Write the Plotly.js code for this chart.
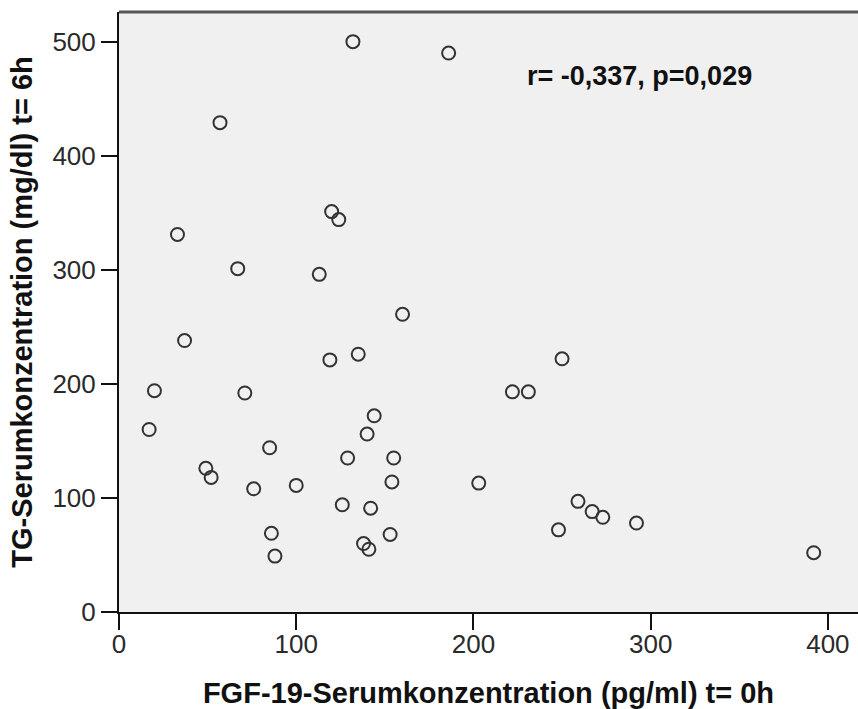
<!DOCTYPE html>
<html>
<head>
<meta charset="utf-8">
<script src="https://cdn.plot.ly/plotly-3.0.1.min.js"></script>
<style>
  html, body { margin: 0; padding: 0; background: #fff; }
  #chart { width: 858px; height: 709px; }
</style>
</head>
<body>
<div id="chart"></div>
<script>
// FGF-19 serum concentration at t=0h (pg/ml)
const fgf19 = [132, 186, 57, 120, 124, 33, 67, 113, 160, 37,
               119, 135, 250, 20, 71, 222, 231, 17, 144, 140,
               85, 129, 155, 49, 52, 76, 100, 154, 203, 126,
               142, 259, 267, 273, 292, 248, 86, 153, 138, 141,
               88, 392];
// TG serum concentration at t=6h (mg/dl)
const tg = [500, 490, 429, 351, 344, 331, 301, 296, 261, 238,
            221, 226, 222, 194, 192, 193, 193, 160, 172, 156,
            144, 135, 135, 126, 118, 108, 111, 114, 113, 94,
            91, 97, 88, 83, 78, 72, 69, 68, 60, 55,
            49, 52];
const xTicks = [0, 100, 200, 300, 400];
const yTicks = [0, 100, 200, 300, 400, 500];
const statText = "r= -0,337, p=0,029";
const xTitle = "FGF-19-Serumkonzentration (pg/ml) t= 0h";
const yTitle = "TG-Serumkonzentration (mg/dl) t= 6h";

const tickFont = { family: "Liberation Sans Narrow, Arial Narrow, Liberation Sans, Arial, sans-serif", size: 26, color: "#2a2a2a" };
const titleFont = { family: "Liberation Sans, Arial, sans-serif", size: 29, color: "#111", weight: "bold" };

const trace = {
  type: "scatter",
  mode: "markers",
  x: fgf19,
  y: tg,
  marker: { symbol: "circle-open", size: 13, color: "#333", line: { width: 2 } },
  hoverinfo: "x+y"
};

const layout = {
  width: 858,
  height: 709,
  margin: { l: 119, r: 0, t: 12, b: 97, pad: 0 },
  paper_bgcolor: "#ffffff",
  plot_bgcolor: "#f0f0f0",
  showlegend: false,
  xaxis: {
    range: [0, 417],
    tickvals: xTicks,
    ticktext: xTicks.map(String),
    ticks: "outside",
    ticklen: 16,
    tickwidth: 2,
    tickcolor: "#111",
    ticklabelstandoff: -8,
    showline: true,
    linecolor: "#111",
    linewidth: 2,
    showgrid: false,
    zeroline: false,
    tickfont: tickFont,
    title: { text: xTitle, font: titleFont, standoff: 26 },
    automargin: false
  },
  yaxis: {
    range: [0, 526],
    tickvals: yTicks,
    ticktext: yTicks.map(String),
    ticks: "outside",
    ticklen: 16,
    tickwidth: 2,
    tickcolor: "#111",
    showline: true,
    linecolor: "#111",
    linewidth: 2,
    showgrid: false,
    zeroline: false,
    tickfont: tickFont,
    title: { text: yTitle, font: titleFont, standoff: 11 },
    automargin: false
  },
  shapes: [
    { type: "line", xref: "paper", yref: "paper", x0: 0, x1: 1, y0: 1, y1: 1,
      line: { color: "#555", width: 3 } }
  ],
  annotations: [
    { text: statText, xref: "x", yref: "y", x: 229, y: 470, xanchor: "left", yanchor: "middle",
      showarrow: false, font: { family: "Liberation Sans, Arial, sans-serif", size: 27, color: "#111", weight: "bold" } }
  ]
};

Plotly.newPlot("chart", [trace], layout, { displayModeBar: false, staticPlot: true });
</script>
</body>
</html>
